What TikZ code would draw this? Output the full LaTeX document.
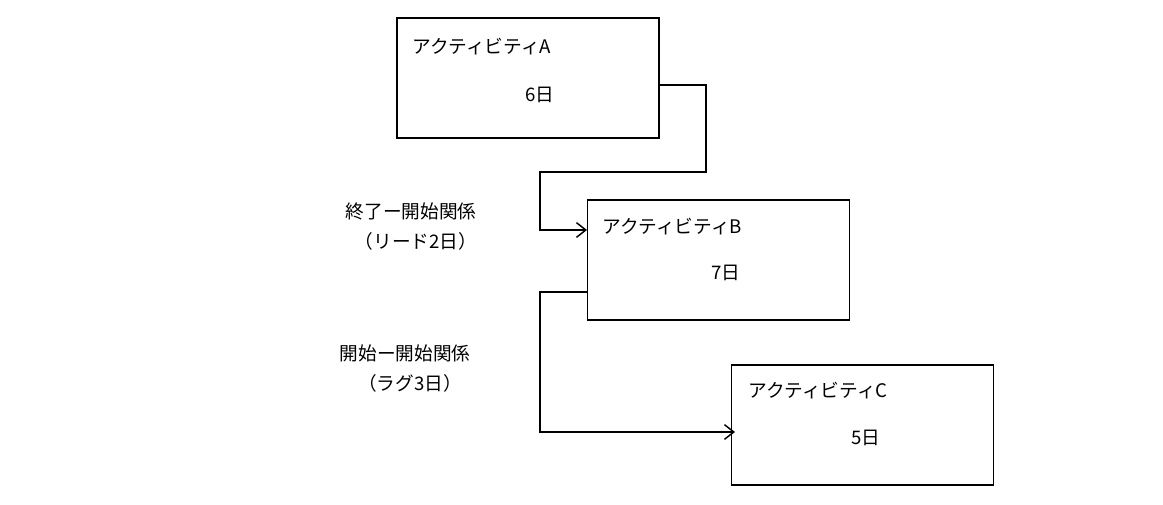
\documentclass[tikz,border=0pt]{standalone}
\usepackage{fontspec}
\newfontfamily\jpfont{Noto Sans CJK JP}
\usetikzlibrary{arrows.meta,positioning}
\tikzset{
  act/.style={draw, line width=1.2pt, minimum width=196.5pt, minimum height=90pt, inner sep=0pt},
  tag/.style={font=\jpfont\fontsize{14}{17}\selectfont, inner sep=0pt},
  link/.style={line width=1.1pt, -{Straight Barb[length=7pt,width=11pt]}}
}
\begin{document}
\begin{tikzpicture}[x=0.75pt,y=-0.75pt]
  \useasboundingbox (0,0) rectangle (1163,504);

  \node[act] (actA) at (528,78) {};
  \node[act] (actB) at (718.5,260) {};
  \node[act] (actC) at (862.5,425) {};

  \node[tag, anchor=west] (nameA) at (412,47) {アクティビティA};
  \node[tag] (dayA) at (540,95) {6日};
  \node[tag, anchor=west] (nameB) at (602,227) {アクティビティB};
  \node[tag] (dayB) at (726,273) {7日};
  \node[tag, anchor=west] (nameC) at (748,391) {アクティビティC};
  \node[tag] (dayC) at (866,438) {5日};

  \node[tag] (fs) at (411,211) {終了ー開始関係};
  \node[tag] (fsLead) at (416,241) {（リード2日）};
  \node[tag] (ss) at (405,353) {開始ー開始関係};
  \node[tag] (ssLag) at (410,383) {（ラグ3日）};

  \coordinate (outA) at (659,85);
  \coordinate (inB) at (587,230);
  \coordinate (outB) at (587,292);
  \coordinate (inC) at (735,432);

  \draw[link] (outA) -- (706,85) -- (706,172) -- (540,172) -- (540,230) -- (inB);
  \draw[link] (outB) -- (540,292) -- (540,432) -- (inC);
\end{tikzpicture}
\end{document}
